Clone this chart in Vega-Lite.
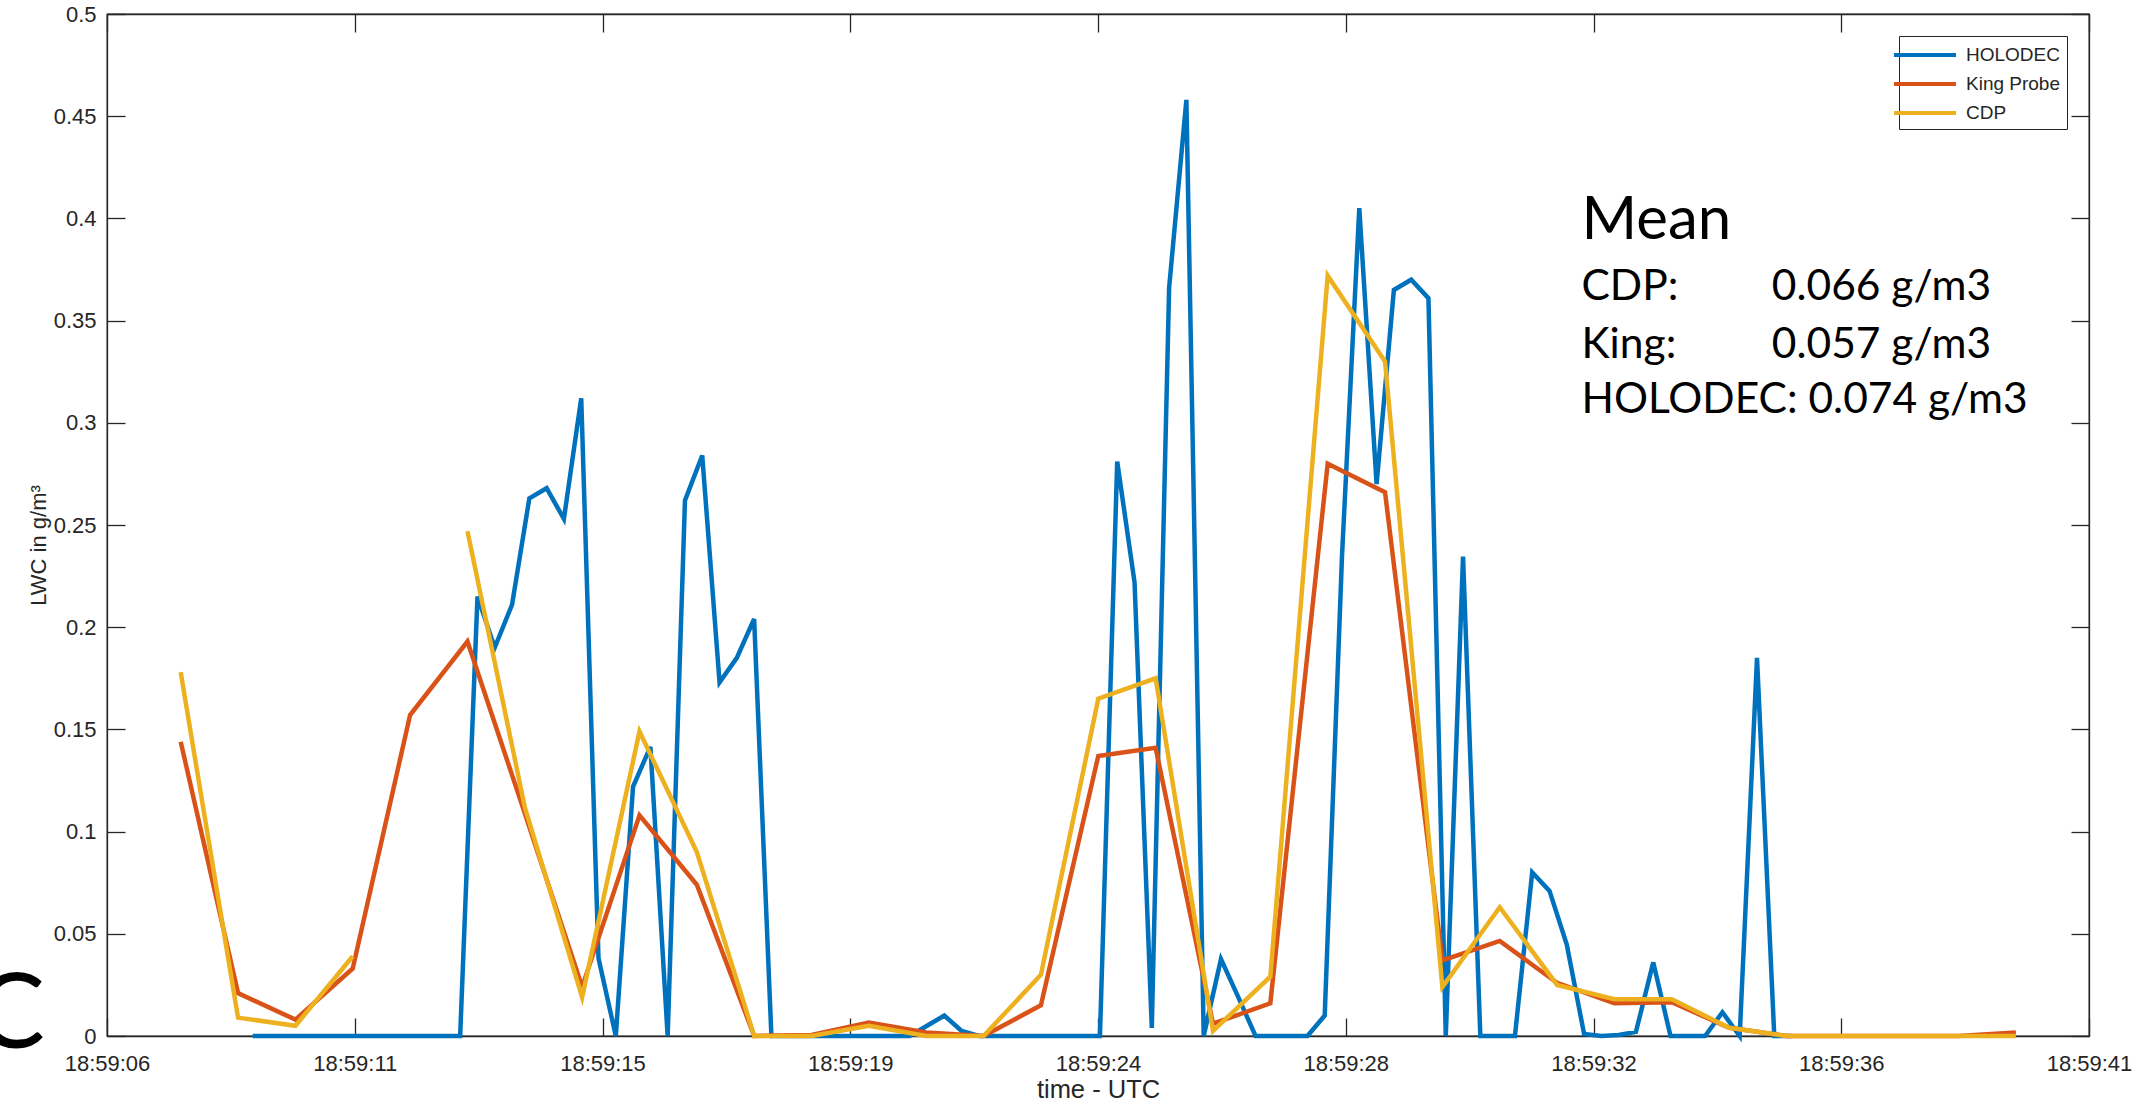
{
  "$schema": "https://vega.github.io/schema/vega-lite/v6.json",
  "width": 1982,
  "height": 1022,
  "autosize": {"type": "none"},
  "padding": {"left": 107, "top": 14, "right": 65, "bottom": 69},
  "background": "white",
  "config": {
    "view": {"stroke": "#262626", "strokeWidth": 1.3},
    "axis": {
      "domainColor": "#262626", "domainWidth": 1.3,
      "tickColor": "#262626", "tickWidth": 1.3, "tickSize": -18,
      "labelFont": "Liberation Sans", "labelFontSize": 22, "labelColor": "#262626",
      "titleFont": "Liberation Sans", "titleFontWeight": "normal", "titleColor": "#262626",
      "grid": false, "labelOverlap": false, "labelFlush": false
    }
  },
  "datasets": {
    "series": [
      {"s": "HOLODEC", "t": 8.790, "v": 0},
      {"s": "HOLODEC", "t": 9.092, "v": 0},
      {"s": "HOLODEC", "t": 9.393, "v": 0},
      {"s": "HOLODEC", "t": 9.695, "v": 0},
      {"s": "HOLODEC", "t": 9.996, "v": 0},
      {"s": "HOLODEC", "t": 10.298, "v": 0},
      {"s": "HOLODEC", "t": 10.599, "v": 0},
      {"s": "HOLODEC", "t": 10.901, "v": 0},
      {"s": "HOLODEC", "t": 11.202, "v": 0},
      {"s": "HOLODEC", "t": 11.504, "v": 0},
      {"s": "HOLODEC", "t": 11.805, "v": 0},
      {"s": "HOLODEC", "t": 12.107, "v": 0},
      {"s": "HOLODEC", "t": 12.408, "v": 0},
      {"s": "HOLODEC", "t": 12.710, "v": 0.215},
      {"s": "HOLODEC", "t": 13.011, "v": 0.19},
      {"s": "HOLODEC", "t": 13.313, "v": 0.211},
      {"s": "HOLODEC", "t": 13.614, "v": 0.263},
      {"s": "HOLODEC", "t": 13.916, "v": 0.268},
      {"s": "HOLODEC", "t": 14.217, "v": 0.253},
      {"s": "HOLODEC", "t": 14.519, "v": 0.312},
      {"s": "HOLODEC", "t": 14.820, "v": 0.038},
      {"s": "HOLODEC", "t": 15.122, "v": 0},
      {"s": "HOLODEC", "t": 15.423, "v": 0.122},
      {"s": "HOLODEC", "t": 15.725, "v": 0.1415},
      {"s": "HOLODEC", "t": 16.026, "v": 0},
      {"s": "HOLODEC", "t": 16.328, "v": 0.262},
      {"s": "HOLODEC", "t": 16.629, "v": 0.284},
      {"s": "HOLODEC", "t": 16.931, "v": 0.173},
      {"s": "HOLODEC", "t": 17.232, "v": 0.185},
      {"s": "HOLODEC", "t": 17.534, "v": 0.204},
      {"s": "HOLODEC", "t": 17.835, "v": 0},
      {"s": "HOLODEC", "t": 18.137, "v": 0},
      {"s": "HOLODEC", "t": 18.438, "v": 0},
      {"s": "HOLODEC", "t": 18.740, "v": 0},
      {"s": "HOLODEC", "t": 19.041, "v": 0},
      {"s": "HOLODEC", "t": 19.343, "v": 0},
      {"s": "HOLODEC", "t": 19.644, "v": 0},
      {"s": "HOLODEC", "t": 19.946, "v": 0},
      {"s": "HOLODEC", "t": 20.247, "v": 0},
      {"s": "HOLODEC", "t": 20.549, "v": 0.005},
      {"s": "HOLODEC", "t": 20.850, "v": 0.01},
      {"s": "HOLODEC", "t": 21.152, "v": 0.0025},
      {"s": "HOLODEC", "t": 21.453, "v": 0},
      {"s": "HOLODEC", "t": 21.755, "v": 0},
      {"s": "HOLODEC", "t": 22.056, "v": 0},
      {"s": "HOLODEC", "t": 22.358, "v": 0},
      {"s": "HOLODEC", "t": 22.659, "v": 0},
      {"s": "HOLODEC", "t": 22.961, "v": 0},
      {"s": "HOLODEC", "t": 23.262, "v": 0},
      {"s": "HOLODEC", "t": 23.564, "v": 0},
      {"s": "HOLODEC", "t": 23.865, "v": 0.281},
      {"s": "HOLODEC", "t": 24.167, "v": 0.222},
      {"s": "HOLODEC", "t": 24.468, "v": 0.004},
      {"s": "HOLODEC", "t": 24.770, "v": 0.366},
      {"s": "HOLODEC", "t": 25.071, "v": 0.458},
      {"s": "HOLODEC", "t": 25.373, "v": 0},
      {"s": "HOLODEC", "t": 25.674, "v": 0.0376},
      {"s": "HOLODEC", "t": 25.976, "v": 0.019},
      {"s": "HOLODEC", "t": 26.277, "v": 0},
      {"s": "HOLODEC", "t": 26.579, "v": 0},
      {"s": "HOLODEC", "t": 26.880, "v": 0},
      {"s": "HOLODEC", "t": 27.182, "v": 0},
      {"s": "HOLODEC", "t": 27.483, "v": 0.01},
      {"s": "HOLODEC", "t": 27.785, "v": 0.235},
      {"s": "HOLODEC", "t": 28.086, "v": 0.405},
      {"s": "HOLODEC", "t": 28.388, "v": 0.27},
      {"s": "HOLODEC", "t": 28.689, "v": 0.365},
      {"s": "HOLODEC", "t": 28.991, "v": 0.37},
      {"s": "HOLODEC", "t": 29.292, "v": 0.361},
      {"s": "HOLODEC", "t": 29.594, "v": 0},
      {"s": "HOLODEC", "t": 29.895, "v": 0.2346},
      {"s": "HOLODEC", "t": 30.197, "v": 0},
      {"s": "HOLODEC", "t": 30.498, "v": 0},
      {"s": "HOLODEC", "t": 30.800, "v": 0},
      {"s": "HOLODEC", "t": 31.101, "v": 0.08},
      {"s": "HOLODEC", "t": 31.403, "v": 0.071},
      {"s": "HOLODEC", "t": 31.704, "v": 0.0447},
      {"s": "HOLODEC", "t": 32.006, "v": 0.001},
      {"s": "HOLODEC", "t": 32.307, "v": 0},
      {"s": "HOLODEC", "t": 32.609, "v": 0.0005},
      {"s": "HOLODEC", "t": 32.910, "v": 0.002},
      {"s": "HOLODEC", "t": 33.212, "v": 0.036},
      {"s": "HOLODEC", "t": 33.513, "v": 0},
      {"s": "HOLODEC", "t": 33.815, "v": 0},
      {"s": "HOLODEC", "t": 34.116, "v": 0},
      {"s": "HOLODEC", "t": 34.418, "v": 0.0116},
      {"s": "HOLODEC", "t": 34.719, "v": 0},
      {"s": "HOLODEC", "t": 35.021, "v": 0.185},
      {"s": "HOLODEC", "t": 35.322, "v": 0},
      {"s": "HOLODEC", "t": 35.624, "v": 0},
      {"s": "King Probe", "t": 7.535, "v": 0.144},
      {"s": "King Probe", "t": 8.535, "v": 0.021},
      {"s": "King Probe", "t": 9.535, "v": 0.008},
      {"s": "King Probe", "t": 10.535, "v": 0.033},
      {"s": "King Probe", "t": 11.535, "v": 0.157},
      {"s": "King Probe", "t": 12.535, "v": 0.193},
      {"s": "King Probe", "t": 13.535, "v": 0.109},
      {"s": "King Probe", "t": 14.535, "v": 0.024},
      {"s": "King Probe", "t": 15.535, "v": 0.108},
      {"s": "King Probe", "t": 16.535, "v": 0.074},
      {"s": "King Probe", "t": 17.535, "v": 0},
      {"s": "King Probe", "t": 18.535, "v": 0.0005},
      {"s": "King Probe", "t": 19.535, "v": 0.0066},
      {"s": "King Probe", "t": 20.535, "v": 0.0017},
      {"s": "King Probe", "t": 21.535, "v": 0},
      {"s": "King Probe", "t": 22.535, "v": 0.015},
      {"s": "King Probe", "t": 23.535, "v": 0.137},
      {"s": "King Probe", "t": 24.535, "v": 0.141},
      {"s": "King Probe", "t": 25.535, "v": 0.006},
      {"s": "King Probe", "t": 26.535, "v": 0.016},
      {"s": "King Probe", "t": 27.535, "v": 0.28},
      {"s": "King Probe", "t": 28.535, "v": 0.266},
      {"s": "King Probe", "t": 29.535, "v": 0.037},
      {"s": "King Probe", "t": 30.535, "v": 0.0465},
      {"s": "King Probe", "t": 31.535, "v": 0.026},
      {"s": "King Probe", "t": 32.535, "v": 0.016},
      {"s": "King Probe", "t": 33.535, "v": 0.0165},
      {"s": "King Probe", "t": 34.535, "v": 0.004},
      {"s": "King Probe", "t": 35.535, "v": 0},
      {"s": "King Probe", "t": 36.535, "v": 0},
      {"s": "King Probe", "t": 37.535, "v": 0},
      {"s": "King Probe", "t": 38.535, "v": 0},
      {"s": "King Probe", "t": 39.535, "v": 0.0017},
      {"s": "CDP", "t": 7.535, "v": 0.178},
      {"s": "CDP", "t": 8.535, "v": 0.009},
      {"s": "CDP", "t": 9.535, "v": 0.005},
      {"s": "CDP", "t": 10.535, "v": 0.039},
      {"s": "CDP", "t": 11.535, "v": null},
      {"s": "CDP", "t": 12.535, "v": 0.247},
      {"s": "CDP", "t": 13.535, "v": 0.112},
      {"s": "CDP", "t": 14.535, "v": 0.019},
      {"s": "CDP", "t": 15.535, "v": 0.149},
      {"s": "CDP", "t": 16.535, "v": 0.09},
      {"s": "CDP", "t": 17.535, "v": 0},
      {"s": "CDP", "t": 18.535, "v": 0},
      {"s": "CDP", "t": 19.535, "v": 0.005},
      {"s": "CDP", "t": 20.535, "v": 0},
      {"s": "CDP", "t": 21.535, "v": 0},
      {"s": "CDP", "t": 22.535, "v": 0.03},
      {"s": "CDP", "t": 23.535, "v": 0.165},
      {"s": "CDP", "t": 24.535, "v": 0.175},
      {"s": "CDP", "t": 25.535, "v": 0.0025},
      {"s": "CDP", "t": 26.535, "v": 0.029},
      {"s": "CDP", "t": 27.535, "v": 0.372},
      {"s": "CDP", "t": 28.535, "v": 0.33},
      {"s": "CDP", "t": 29.535, "v": 0.024},
      {"s": "CDP", "t": 30.535, "v": 0.063},
      {"s": "CDP", "t": 31.535, "v": 0.025},
      {"s": "CDP", "t": 32.535, "v": 0.018},
      {"s": "CDP", "t": 33.535, "v": 0.018},
      {"s": "CDP", "t": 34.535, "v": 0.004},
      {"s": "CDP", "t": 35.535, "v": 0},
      {"s": "CDP", "t": 36.535, "v": 0},
      {"s": "CDP", "t": 37.535, "v": 0},
      {"s": "CDP", "t": 38.535, "v": 0},
      {"s": "CDP", "t": 39.535, "v": 0}
    ]
  },
  "layer": [
    {
      "data": {"name": "series"},
      "mark": {"type": "line", "strokeWidth": 4.5, "invalid": "break-paths-show-domains"},
      "encoding": {
        "x": {
          "field": "t", "type": "quantitative",
          "scale": {"domain": [6.25, 40.81], "nice": false, "zero": false},
          "axis": {
            "orient": "bottom",
            "values": [6.25, 10.57, 14.89, 19.21, 23.53, 27.85, 32.17, 36.49, 40.81],
            "labelExpr": "['18:59:06','18:59:11','18:59:15','18:59:19','18:59:24','18:59:28','18:59:32','18:59:36','18:59:41'][round((datum.value-6.25)/4.32)]",
            "labelPadding": 35,
            "title": "time - UTC", "titleFontSize": 25.5, "titlePadding": 3
          }
        },
        "y": {
          "field": "v", "type": "quantitative",
          "scale": {"domain": [0, 0.5], "nice": false},
          "axis": {
            "orient": "left",
            "values": [0, 0.05, 0.1, 0.15, 0.2, 0.25, 0.3, 0.35, 0.4, 0.45, 0.5],
            "format": "~g",
            "labelPadding": 29,
            "title": "LWC in g/m³", "titleFontSize": 22, "titlePadding": 3, "titleY": 531
          }
        },
        "color": {
          "field": "s", "type": "nominal",
          "scale": {"domain": ["HOLODEC", "King Probe", "CDP"], "range": ["#0072BD", "#D95319", "#EDB120"]},
          "legend": {
            "title": null, "orient": "top-right", "offset": 22, "padding": 6,
            "strokeColor": "#262626", "fillColor": "white",
            "symbolType": "M-2.82,0H2.82", "symbolSize": 484, "symbolStrokeWidth": 4,
            "symbolOffset": 7, "labelOffset": 28, "labelAlign": "left",
            "labelFont": "Liberation Sans", "labelFontSize": 19, "labelColor": "#262626",
            "rowPadding": 6
          }
        }
      }
    },
    {
      "data": {"name": "series"},
      "mark": {"type": "point", "opacity": 0},
      "encoding": {
        "x": {"field": "t", "type": "quantitative",
          "axis": {"orient": "top", "values": [6.25, 10.57, 14.89, 19.21, 23.53, 27.85, 32.17, 36.49, 40.81], "labels": false, "title": null}},
        "y": {"field": "v", "type": "quantitative",
          "axis": {"orient": "right", "values": [0, 0.05, 0.1, 0.15, 0.2, 0.25, 0.3, 0.35, 0.4, 0.45, 0.5], "labels": false, "title": null}}
      }
    },
    {
      "data": {"values": [{"text": "Mean", "t": 31.96, "v": 0.3897}]},
      "mark": {"type": "text", "align": "left", "baseline": "alphabetic", "font": "Lato", "fontSize": 60, "color": "black"},
      "encoding": {
        "x": {"field": "t", "type": "quantitative", "axis": null},
        "y": {"field": "v", "type": "quantitative", "axis": null},
        "text": {"field": "text"}
      }
    },
    {
      "data": {"values": [
        {"text": "CDP:", "t": 31.96, "v": 0.36},
        {"text": "King:", "t": 31.96, "v": 0.3315},
        {"text": "HOLODEC: 0.074 g/m3", "t": 31.96, "v": 0.3046}
      ]},
      "mark": {"type": "text", "align": "left", "baseline": "alphabetic", "font": "Lato", "fontSize": 42.5, "color": "black"},
      "encoding": {
        "x": {"field": "t", "type": "quantitative", "axis": null},
        "y": {"field": "v", "type": "quantitative", "axis": null},
        "text": {"field": "text"}
      }
    },
    {
      "data": {"values": [
        {"text": "0.066 g/m3", "t": 35.28, "v": 0.36},
        {"text": "0.057 g/m3", "t": 35.28, "v": 0.3315}
      ]},
      "mark": {"type": "text", "align": "left", "baseline": "alphabetic", "font": "Lato", "fontSize": 42.5, "color": "black"},
      "encoding": {
        "x": {"field": "t", "type": "quantitative", "axis": null},
        "y": {"field": "v", "type": "quantitative", "axis": null},
        "text": {"field": "text"}
      }
    },
    {
      "data": {"values": [{"text": "C", "t": 5.169, "v": -0.0059}]},
      "mark": {"type": "text", "align": "right", "baseline": "alphabetic", "font": "Lato", "fontSize": 104, "color": "black"},
      "encoding": {
        "x": {"field": "t", "type": "quantitative", "axis": null},
        "y": {"field": "v", "type": "quantitative", "axis": null},
        "text": {"field": "text"}
      }
    }
  ],
  "resolve": {"axis": {"x": "independent", "y": "independent"}}
}
